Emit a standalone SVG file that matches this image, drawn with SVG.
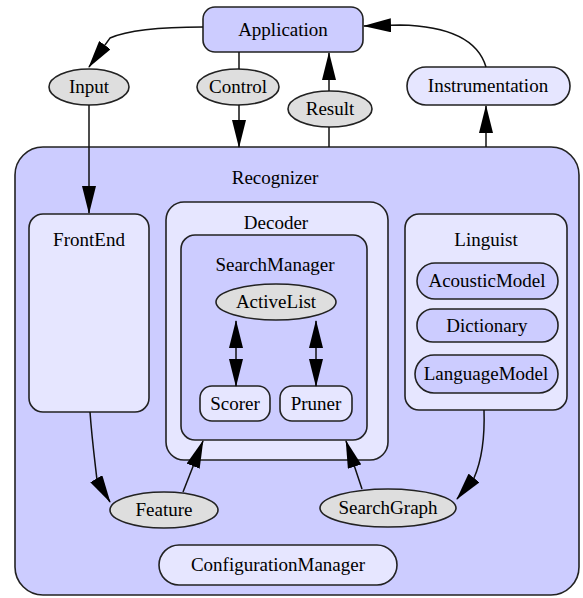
<svg xmlns="http://www.w3.org/2000/svg" width="583" height="598" viewBox="0 0 583 598" font-family="'Liberation Serif', 'DejaVu Serif', 'Times New Roman', Times, serif">
<defs>
<style>
text{font-family:'Liberation Serif','DejaVu Serif','Times New Roman',Times,serif}
.t{font-size:19px;fill:#000;text-anchor:middle}
.dk{fill:#ccccff;stroke:#222;stroke-width:1.6}
.lt{fill:#e6e6ff;stroke:#222;stroke-width:1.6}
.gr{fill:#dedede;stroke:#222;stroke-width:1.6}
.e{fill:none;stroke:#111;stroke-width:1.5}
</style>
<marker id="ah" markerUnits="userSpaceOnUse" markerWidth="28" markerHeight="14" refX="27" refY="7" orient="auto-start-reverse" viewBox="0 0 28 14">
<path d="M0,0 L28,7 L0,14 z" fill="#000"/>
</marker>
</defs>
<rect width="583" height="598" fill="#fff"/>

<g id="Recognizer"><rect class="dk" x="15" y="147" width="564" height="448" rx="28"/><text class="t" x="275" y="184">Recognizer</text></g>
<g id="FrontEnd"><rect class="lt" x="29" y="214" width="120" height="198" rx="14"/><text class="t" x="89" y="246">FrontEnd</text></g>
<g id="Decoder"><rect class="lt" x="166" y="202" width="222" height="258" rx="18"/><text class="t" x="276" y="229">Decoder</text></g>
<g id="SearchManager"><rect class="dk" x="181" y="235" width="186" height="205" rx="14"/><text class="t" x="275" y="271">SearchManager</text></g>
<g id="Linguist"><rect class="lt" x="405" y="214" width="162" height="196" rx="14"/><text class="t" x="486" y="246">Linguist</text></g>

<g id="Application"><rect class="dk" x="203" y="7" width="160" height="45" rx="12"/><text class="t" x="283" y="36">Application</text></g>
<g id="Input"><ellipse class="gr" cx="89" cy="87" rx="40" ry="18"/><text class="t" x="89" y="93">Input</text></g>
<g id="Control"><ellipse class="gr" cx="238" cy="87" rx="41" ry="18"/><text class="t" x="238" y="93">Control</text></g>
<g id="Result"><ellipse class="gr" cx="330" cy="109" rx="42" ry="18"/><text class="t" x="330" y="115">Result</text></g>
<g id="Instrumentation"><rect class="lt" x="407" y="67" width="163" height="38" rx="19"/><text class="t" x="488" y="92">Instrumentation</text></g>

<g id="ActiveList"><ellipse class="gr" cx="276" cy="302" rx="60" ry="18"/><text class="t" x="276" y="308">ActiveList</text></g>
<g id="Scorer"><rect class="lt" x="200" y="386" width="70" height="35" rx="12"/><text class="t" x="235" y="410">Scorer</text></g>
<g id="Pruner"><rect class="lt" x="280" y="386" width="72" height="35" rx="12"/><text class="t" x="316" y="410">Pruner</text></g>

<g id="AcousticModel"><rect class="dk" x="417" y="263" width="141" height="36" rx="18"/><text class="t" x="487" y="287">AcousticModel</text></g>
<g id="Dictionary"><rect class="dk" x="417" y="309" width="141" height="33" rx="16"/><text class="t" x="487" y="332">Dictionary</text></g>
<g id="LanguageModel"><rect class="dk" x="415" y="355" width="143" height="38" rx="19"/><text class="t" x="486" y="380">LanguageModel</text></g>

<g id="Feature"><ellipse class="gr" cx="164" cy="510" rx="54" ry="18"/><text class="t" x="164" y="516">Feature</text></g>
<g id="SearchGraph"><ellipse class="gr" cx="388" cy="508" rx="68" ry="19"/><text class="t" x="388" y="514">SearchGraph</text></g>
<g id="ConfigurationManager"><rect class="lt" x="159" y="545" width="238" height="40" rx="20"/><text class="t" x="278" y="571">ConfigurationManager</text></g>

<g id="connectors">
<path class="e" d="M203,27 C165,27 128,30 110,38 L89,67" marker-end="url(#ah)"/>
<path class="e" d="M89,105 L89,213" marker-end="url(#ah)"/>
<path class="e" d="M239,52 L239,69"/>
<path class="e" d="M239,105 L239,147" marker-end="url(#ah)"/>
<path class="e" d="M329,147 L329,127"/>
<path class="e" d="M329,91 L329,53" marker-end="url(#ah)"/>
<path class="e" d="M486,147 L486,106" marker-end="url(#ah)"/>
<path class="e" d="M486,67 C478,40 448,26 400,25 L364,26" marker-end="url(#ah)"/>
<path class="e" d="M236,321 L236,386" marker-start="url(#ah)" marker-end="url(#ah)"/>
<path class="e" d="M316,321 L316,386" marker-start="url(#ah)" marker-end="url(#ah)"/>
<path class="e" d="M90,412 C92,440 95,462 97,480 L110,502" marker-end="url(#ah)"/>
<path class="e" d="M183,492 L203,441" marker-end="url(#ah)"/>
<path class="e" d="M362,489 L346,441" marker-end="url(#ah)"/>
<path class="e" d="M484,410 C485,440 481,462 474,478 L457,499" marker-end="url(#ah)"/>
</g>
</svg>
